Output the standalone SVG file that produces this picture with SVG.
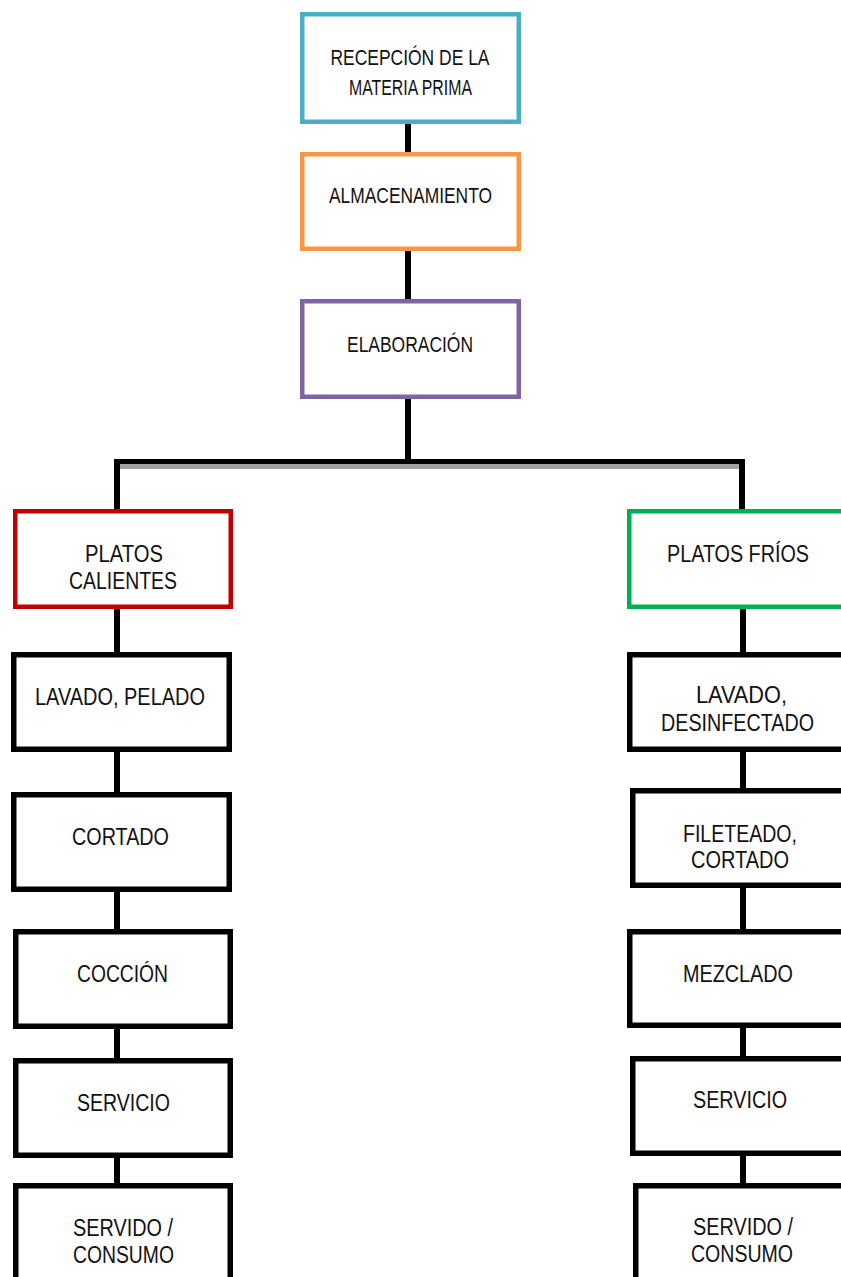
<svg xmlns="http://www.w3.org/2000/svg" width="841" height="1277" viewBox="0 0 841 1277">
  <style>
    .box { fill: #ffffff; }
    .top { stroke-width: 4.5; }
    .step { stroke: #000000; stroke-width: 5.5; }
    .lbl { font-family: "Liberation Sans Narrow", "Liberation Sans", Arial, sans-serif; fill: #111111; text-anchor: middle; }
    .t1 { font-size: 22px; }
    .t2 { font-size: 23.5px; }
    .wire { stroke: #000000; stroke-width: 6; fill: none; }
  </style>

  <rect width="841" height="1277" fill="#ffffff"/>

  <!-- connectors -->
  <g id="connectors">
    <line class="wire" x1="408" y1="122" x2="408" y2="153"/>
    <line class="wire" x1="408" y1="250" x2="408" y2="300"/>
    <line class="wire" x1="408" y1="398" x2="408" y2="462"/>
    <!-- branch bar with its grey shadow -->
    <rect x="117" y="464" width="628" height="5" fill="#a0a0a0"/>
    <line x1="115" y1="461.5" x2="745" y2="461.5" stroke="#000000" stroke-width="5"/>
    <line class="wire" x1="117" y1="459" x2="117" y2="510"/>
    <line class="wire" x1="742" y1="459" x2="742" y2="510"/>
    <!-- hot dishes chain -->
    <line class="wire" x1="117" y1="608" x2="117" y2="653"/>
    <line class="wire" x1="117" y1="750" x2="117" y2="793"/>
    <line class="wire" x1="117" y1="890" x2="117" y2="930"/>
    <line class="wire" x1="117" y1="1027" x2="117" y2="1059"/>
    <line class="wire" x1="117" y1="1156" x2="117" y2="1184"/>
    <!-- cold dishes chain -->
    <line class="wire" x1="743" y1="608" x2="743" y2="653"/>
    <line class="wire" x1="743" y1="750" x2="743" y2="789"/>
    <line class="wire" x1="743" y1="886" x2="743" y2="930"/>
    <line class="wire" x1="743" y1="1026" x2="743" y2="1057"/>
    <line class="wire" x1="743" y1="1154" x2="743" y2="1184"/>
  </g>

  <g id="recepcion">
    <rect class="box top" x="302.25" y="14.25" width="216.5" height="107.5" stroke="#4bacc6"/>
    <text class="lbl t1" x="410" y="65" textLength="159" lengthAdjust="spacingAndGlyphs">RECEPCIÓN DE LA</text>
    <text class="lbl t1" x="410.5" y="95" textLength="123" lengthAdjust="spacingAndGlyphs">MATERIA PRIMA</text>
  </g>

  <g id="almacenamiento">
    <rect class="box top" x="302.25" y="154.25" width="216.5" height="94.5" stroke="#f79646"/>
    <text class="lbl t1" x="410.5" y="203" textLength="163" lengthAdjust="spacingAndGlyphs">ALMACENAMIENTO</text>
  </g>

  <g id="elaboracion">
    <rect class="box top" x="302.25" y="301.25" width="216.5" height="95.5" stroke="#8064a2"/>
    <text class="lbl t1" x="410" y="352" textLength="126" lengthAdjust="spacingAndGlyphs">ELABORACIÓN</text>
  </g>

  <g id="platos-calientes">
    <rect class="box top" x="15.25" y="511.25" width="215.5" height="95.5" stroke="#c00000"/>
    <text class="lbl t2" x="124" y="562" textLength="78" lengthAdjust="spacingAndGlyphs">PLATOS</text>
    <text class="lbl t2" x="123" y="589" textLength="108" lengthAdjust="spacingAndGlyphs">CALIENTES</text>
  </g>

  <g id="lavado-pelado">
    <rect class="box step" x="13.75" y="654.75" width="215.5" height="94.5"/>
    <text class="lbl t2" x="120" y="705" textLength="170" lengthAdjust="spacingAndGlyphs">LAVADO, PELADO</text>
  </g>

  <g id="cortado">
    <rect class="box step" x="13.75" y="794.75" width="215.5" height="94.5"/>
    <text class="lbl t2" x="120.5" y="845" textLength="97" lengthAdjust="spacingAndGlyphs">CORTADO</text>
  </g>

  <g id="coccion">
    <rect class="box step" x="15.75" y="931.75" width="214.5" height="94.5"/>
    <text class="lbl t2" x="122.5" y="982" textLength="91" lengthAdjust="spacingAndGlyphs">COCCIÓN</text>
  </g>

  <g id="servicio-caliente">
    <rect class="box step" x="15.75" y="1060.75" width="214.5" height="94.5"/>
    <text class="lbl t2" x="123.5" y="1111" textLength="93" lengthAdjust="spacingAndGlyphs">SERVICIO</text>
  </g>

  <g id="servido-caliente">
    <rect class="box step" x="15.75" y="1185.75" width="214.5" height="120"/>
    <text class="lbl t2" x="123" y="1236" textLength="100" lengthAdjust="spacingAndGlyphs">SERVIDO /</text>
    <text class="lbl t2" x="123.5" y="1263" textLength="101" lengthAdjust="spacingAndGlyphs">CONSUMO</text>
  </g>

  <g id="platos-frios">
    <rect class="box top" x="629.25" y="511.25" width="216.5" height="95.5" stroke="#00b050"/>
    <text class="lbl t2" x="738" y="562" textLength="142" lengthAdjust="spacingAndGlyphs">PLATOS FRÍOS</text>
  </g>

  <g id="lavado-desinfectado">
    <rect class="box step" x="629.75" y="654.75" width="216.5" height="94.5"/>
    <text class="lbl t2" x="741.5" y="703" textLength="91" lengthAdjust="spacingAndGlyphs">LAVADO,</text>
    <text class="lbl t2" x="737.5" y="731" textLength="153" lengthAdjust="spacingAndGlyphs">DESINFECTADO</text>
  </g>

  <g id="fileteado-cortado">
    <rect class="box step" x="632.75" y="790.75" width="216.5" height="94.5"/>
    <text class="lbl t2" x="740" y="842" textLength="114" lengthAdjust="spacingAndGlyphs">FILETEADO,</text>
    <text class="lbl t2" x="740" y="868" textLength="98" lengthAdjust="spacingAndGlyphs">CORTADO</text>
  </g>

  <g id="mezclado">
    <rect class="box step" x="629.75" y="931.75" width="216.5" height="93.5"/>
    <text class="lbl t2" x="738" y="982" textLength="110" lengthAdjust="spacingAndGlyphs">MEZCLADO</text>
  </g>

  <g id="servicio-frio">
    <rect class="box step" x="632.75" y="1058.75" width="216.5" height="94.5"/>
    <text class="lbl t2" x="740" y="1108" textLength="94" lengthAdjust="spacingAndGlyphs">SERVICIO</text>
  </g>

  <g id="servido-frio">
    <rect class="box step" x="635.75" y="1185.75" width="216.5" height="120"/>
    <text class="lbl t2" x="743" y="1235" textLength="100" lengthAdjust="spacingAndGlyphs">SERVIDO /</text>
    <text class="lbl t2" x="742" y="1262" textLength="102" lengthAdjust="spacingAndGlyphs">CONSUMO</text>
  </g>
</svg>
